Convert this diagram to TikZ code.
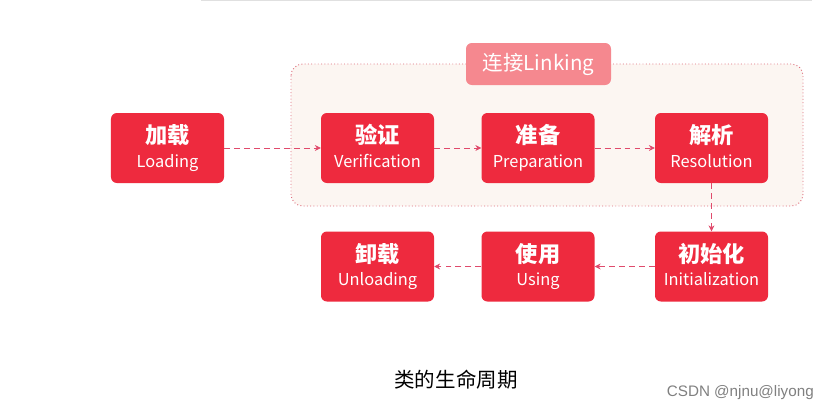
\documentclass[tikz,border=0pt]{standalone}
\usepackage{fontspec}
\newfontfamily\cjk{Noto Sans CJK SC}
\newfontfamily\wmfont{Liberation Sans}
\usetikzlibrary{arrows.meta}
\definecolor{boxred}{HTML}{EE2A3E}
\definecolor{flowred}{HTML}{E04A6C}
\definecolor{linkfill}{HTML}{FCF6F2}
\definecolor{linkline}{HTML}{DE6E7C}
\definecolor{tagred}{HTML}{F5888F}
\tikzset{
  stagebox/.style={fill=boxred, rounded corners=5pt, minimum width=3.39cm, minimum height=2.1cm,
    text=white, align=center, inner sep=0pt},
  flow/.style={flowred, dashed, dash pattern=on 5pt off 3.5pt, line width=0.7pt, -{Stealth[length=5pt,width=5pt]}},
}
\newcommand{\stage}[2]{{\fontsize{19}{20}\selectfont\cjk\bfseries #1\vphantom{加载}}\\[6pt]{\fontsize{14}{16}\selectfont\cjk #2\vphantom{Lgp}}}
\begin{document}
\begin{tikzpicture}[x=0.03cm, y=-0.03cm]
        \useasboundingbox[fill=white] (0,0) rectangle (829,413);
        \draw[black!12, line width=0.6pt] (201,0.5) -- (812,0.5);
        % linking area
        \draw[linkline, fill=linkfill, dotted, line width=0.8pt, rounded corners=10pt] (291,64) rectangle (803,206);
        \node[fill=tagred, rounded corners=5pt, minimum width=4.35cm, minimum height=1.26cm, text=white, inner sep=0pt]
          (linking) at (538.5,64) {\fontsize{17.5}{20}\selectfont\cjk 连接Linking};
        % stages
        \node[stagebox] (load) at (167.5,148) {\stage{加载}{Loading}};
        \node[stagebox] (verify) at (377.5,148) {\stage{验证}{Verification}};
        \node[stagebox] (prepare) at (538,148) {\stage{准备}{Preparation}};
        \node[stagebox] (resolve) at (711.5,148) {\stage{解析}{Resolution}};
        \node[stagebox] (init) at (711.5,266.5) {\stage{初始化}{Initialization}};
        \node[stagebox] (use) at (538,266.5) {\stage{使用}{Using}};
        \node[stagebox] (unload) at (377.5,266.5) {\stage{卸载}{Unloading}};
        % arrows
        \draw[flow] (load) -- (verify);
        \draw[flow] (verify) -- (prepare);
        \draw[flow] (prepare) -- (resolve);
        \draw[flow] (resolve) -- (init);
        \draw[flow] (init) -- (use);
        \draw[flow] (use) -- (unload);
        % captions
        \node (title) at (456,380) {\fontsize{17.5}{20}\selectfont\cjk 类的生命周期};
        \node[anchor=east, text=black!50, inner sep=0pt] (mark) at (814,393) {\fontsize{13}{15}\selectfont\wmfont CSDN @njnu@liyong};
\end{tikzpicture}
\end{document}
